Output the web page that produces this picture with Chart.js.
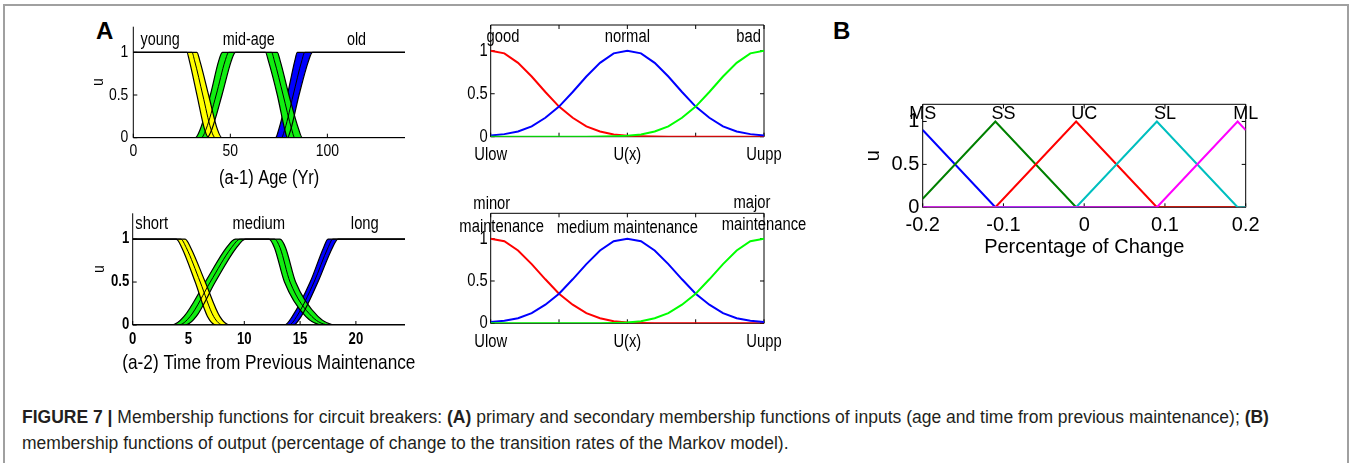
<!DOCTYPE html>
<html>
<head>
<meta charset="utf-8">
<script src="https://cdn.jsdelivr.net/npm/chart.js@4.4.1/dist/chart.umd.min.js"></script>
<style>
body { margin: 0; width: 1351px; height: 463px; background: #fff; position: relative; overflow: hidden; font-family: 'Liberation Sans', Arial, sans-serif; }
.frame { position: absolute; left: 3px; top: 4px; width: 1342px; height: 480px; border: 2px solid #a0a0a0; border-bottom: none; }
.box { position: absolute; }
.panel { position: absolute; font-weight: bold; font-size: 24px; line-height: 24px; color: #000; }
.caption { position: absolute; left: 22px; top: 404px; width: 1320px; font-size: 17.5px; line-height: 26px; color: #231f20; white-space: nowrap; }
</style>
</head>
<body>
<div class="frame"></div>
<div class="panel" style="left:96px;top:19px">A</div>
<div class="panel" style="left:833px;top:19px">B</div>

<div class="box" style="left:80px;top:5px"><canvas id="ageChart" width="340" height="195"></canvas></div>
<div class="box" style="left:80px;top:190px"><canvas id="timeChart" width="340" height="195"></canvas></div>
<div class="box" style="left:440px;top:2px"><canvas id="condChart" width="380" height="170"></canvas></div>
<div class="box" style="left:440px;top:185px"><canvas id="maintChart" width="380" height="175"></canvas></div>
<div class="box" style="left:840px;top:60px"><canvas id="outChart" width="440" height="210"></canvas></div>

<div class="caption"><b>FIGURE 7 |</b> Membership functions for circuit breakers: <b>(A)</b> primary and secondary membership functions of inputs (age and time from previous maintenance); <b>(B)</b><br>membership functions of output (percentage of change to the transition rates of the Markov model).</div>

<script>
console.log("chart file loaded");

// tick values / labels
var memTicks = [0, 0.5, 1];
var memTickLabels = ['0', '0.5', '1'];
var ageTicks = [0, 50, 100];
var ageTickLabels = ['0', '50', '100'];
var timeTicks = [0, 5, 10, 15, 20];
var timeTickLabels = ['0', '5', '10', '15', '20'];
var uTicks = [0, 0.25, 0.5, 0.75, 1];
var uTickLabels = ['Ulow', '', 'U(x)', '', 'Uupp'];
var pctTicks = [-0.2, -0.1, 0, 0.1, 0.2];
var pctTickLabels = ['-0.2', '-0.1', '0', '0.1', '0.2'];

// (a-1) age in years -> [x, u], upper / lower / middle line of each band
var youngUpper = [[0, 1], [32.8, 1], [34.3, 0.9], [38.8, 0.5], [43.3, 0.1], [45.7, 0], [140, 0]];
var youngLower = [[0, 1], [27.6, 1], [28.9, 0.9], [32.8, 0.5], [36.7, 0.1], [38.8, 0], [140, 0]];
var youngMid = [[0, 1], [30.2, 1], [31.6, 0.9], [35.8, 0.5], [40, 0.1], [42.2, 0], [140, 0]];
var midAgeUpper = [[0, 0], [31.9, 0], [34.5, 0.1], [39.7, 0.5], [44, 0.9], [45.9, 1], [74.2, 1], [75.7, 0.9], [80.2, 0.5], [85.2, 0.1], [87.1, 0], [140, 0]];
var midAgeLower = [[0, 0], [38, 0], [40.5, 0.1], [45.7, 0.5], [50.5, 0.9], [52.6, 1], [68.1, 1], [69.6, 0.9], [74.2, 0.5], [78, 0.1], [79.4, 0], [140, 0]];
var midAgeMid = [[0, 0], [35, 0], [37.5, 0.1], [42.7, 0.5], [47.3, 0.9], [49.2, 1], [71.2, 1], [72.7, 0.9], [77.2, 0.5], [81.6, 0.1], [83.2, 0], [140, 0]];
var oldUpper = [[0, 0], [73.3, 0], [75, 0.1], [79.4, 0.5], [83.2, 0.9], [84.5, 1], [140, 1]];
var oldLower = [[0, 0], [79.4, 0], [81.2, 0.1], [85.4, 0.5], [90.3, 0.9], [92.3, 1], [140, 1]];
var oldMid = [[0, 0], [76.3, 0], [78.1, 0.1], [82.4, 0.5], [86.8, 0.9], [88.4, 1], [140, 1]];
var ageLabels = ['young', 'mid-age', 'old'];

// (a-2) time from previous maintenance
var shortUpper = [[0, 1], [4.7, 1], [5.2, 0.9], [6.5, 0.5], [7.8, 0.1], [8.7, 0], [24.4, 0]];
var shortLower = [[0, 1], [3.9, 1], [4.4, 0.9], [5.6, 0.5], [6.7, 0.1], [7.5, 0], [24.4, 0]];
var shortMid = [[0, 1], [4.3, 1], [4.8, 0.9], [6.05, 0.5], [7.25, 0.1], [8.1, 0], [24.4, 0]];
var mediumUpper = [[0, 0], [3.5, 0], [4.6, 0.1], [6.5, 0.5], [8.4, 0.9], [9.2, 1], [13.2, 1], [13.7, 0.9], [14.6, 0.5], [16.6, 0.1], [18.3, 0], [24.4, 0]];
var mediumLower = [[0, 0], [4.7, 0], [5.7, 0.1], [7.4, 0.5], [9.3, 0.9], [10.1, 1], [12.2, 1], [12.7, 0.9], [13.6, 0.5], [15.5, 0.1], [17.1, 0], [24.4, 0]];
var mediumMid = [[0, 0], [4.1, 0], [5.15, 0.1], [6.95, 0.5], [8.85, 0.9], [9.65, 1], [12.7, 1], [13.2, 0.9], [14.1, 0.5], [16.05, 0.1], [17.7, 0], [24.4, 0]];
var longUpper = [[0, 0], [13.6, 0], [14.3, 0.1], [15.9, 0.5], [17.1, 0.9], [17.5, 1], [24.4, 1]];
var longLower = [[0, 0], [14.4, 0], [15.1, 0.1], [16.6, 0.5], [17.9, 0.9], [18.4, 1], [24.4, 1]];
var longMid = [[0, 0], [14, 0], [14.7, 0.1], [16.25, 0.5], [17.5, 0.9], [17.95, 1], [24.4, 1]];
var timeLabels = ['short', 'medium', 'long'];

// secondary membership functions, Ulow .. Uupp
var uX = [0, 0.05, 0.1, 0.15, 0.2, 0.25, 0.3, 0.35, 0.4, 0.45, 0.5, 0.55, 0.6, 0.65, 0.7, 0.75, 0.8, 0.85, 0.9, 0.95, 1];
var goodU = [1, 0.97, 0.86, 0.7, 0.52, 0.35, 0.22, 0.12, 0.06, 0.025, 0.01, 0.004, 0.001, 0, 0, 0, 0, 0, 0, 0, 0];
var normalU = [0.015, 0.03, 0.06, 0.12, 0.22, 0.35, 0.52, 0.7, 0.86, 0.97, 1, 0.97, 0.86, 0.7, 0.52, 0.35, 0.22, 0.12, 0.06, 0.03, 0.015];
var badU = [0, 0, 0, 0, 0, 0, 0, 0, 0.001, 0.004, 0.01, 0.025, 0.06, 0.12, 0.22, 0.35, 0.52, 0.7, 0.86, 0.97, 1];
var minorU = [1, 0.97, 0.86, 0.7, 0.52, 0.35, 0.22, 0.12, 0.06, 0.025, 0.01, 0.004, 0.001, 0, 0, 0, 0, 0, 0, 0, 0];
var mediumU = [0.015, 0.03, 0.06, 0.12, 0.22, 0.35, 0.52, 0.7, 0.86, 0.97, 1, 0.97, 0.86, 0.7, 0.52, 0.35, 0.22, 0.12, 0.06, 0.03, 0.015];
var majorU = [0, 0, 0, 0, 0, 0, 0, 0, 0.001, 0.004, 0.01, 0.025, 0.06, 0.12, 0.22, 0.35, 0.52, 0.7, 0.86, 0.97, 1];

// (B) output, percentage of change
var msPts = [[-0.2, 0.9], [-0.11, 0], [0.2, 0]];
var ssPts = [[-0.2, 0.1], [-0.11, 1], [-0.01, 0], [0.2, 0]];
var ucPts = [[-0.2, 0], [-0.11, 0], [-0.01, 1], [0.09, 0], [0.2, 0]];
var slPts = [[-0.2, 0], [-0.01, 0], [0.09, 1], [0.19, 0], [0.2, 0]];
var mlPts = [[-0.2, 0], [0.09, 0], [0.19, 1], [0.2, 0.9]];
var outLabels = ['MS', 'SS', 'UC', 'SL', 'ML'];

var SANS = "'Liberation Sans', Arial, sans-serif";
var SQUEEZE = 0.82; // matlab export looks like Arial Narrow

function pts(arr) {
    return arr.map(p => ({x: p[0], y: p[1]}));
}
function zipPts(xs, ys) {
    return xs.map((x, i) => ({x: x, y: ys[i]}));
}

// one fuzzy band: filled area between upper and lower, plus middle line
function band(upper, lower, mid, color) {
    return [
        {data: pts(upper), fill: '+1', backgroundColor: color, borderColor: '#000', borderWidth: 1.2, order: 3},
        {data: pts(lower), fill: false, borderColor: '#000', borderWidth: 1.2, order: 2},
        {data: pts(mid), fill: false, borderColor: '#000', borderWidth: 1, order: 1}
    ];
}

function narrowText(ctx, text, x, y, align, font, rotated) {
    ctx.save();
    ctx.translate(x, y);
    if (rotated) ctx.rotate(-Math.PI / 2);
    ctx.scale(SQUEEZE, 1);
    ctx.font = font;
    ctx.textAlign = align;
    ctx.textBaseline = 'middle';
    ctx.fillStyle = '#000';
    ctx.fillText(text, 0, 0);
    ctx.restore();
}

// axis lines / box, inward ticks, narrow axis text and the labels inside the plot
function frame(cfg) {
    return {
        id: 'frame',
        beforeDatasetsDraw(chart) {
            var ctx = chart.ctx, a = chart.chartArea, x = chart.scales.x, y = chart.scales.y;
            ctx.save();
            ctx.strokeStyle = '#000';
            ctx.lineWidth = 1;
            ctx.beginPath();
            ctx.moveTo(a.left, a.top);
            ctx.lineTo(a.left, a.bottom);
            ctx.lineTo(a.right, a.bottom);
            if (cfg.box) {
                ctx.lineTo(a.right, a.top);
                ctx.lineTo(a.left, a.top);
            }
            x.ticks.forEach(t => {
                var px = x.getPixelForValue(t.value);
                ctx.moveTo(px, a.bottom); ctx.lineTo(px, a.bottom - 4);
                if (cfg.box) { ctx.moveTo(px, a.top); ctx.lineTo(px, a.top + 4); }
            });
            y.ticks.forEach(t => {
                var py = y.getPixelForValue(t.value);
                ctx.moveTo(a.left, py); ctx.lineTo(a.left + 4, py);
                if (cfg.box) { ctx.moveTo(a.right, py); ctx.lineTo(a.right - 4, py); }
            });
            ctx.stroke();
            ctx.restore();
        },
        afterDatasetsDraw(chart) {
            var ctx = chart.ctx, a = chart.chartArea, x = chart.scales.x, y = chart.scales.y;
            if (cfg.narrow) {
                x.ticks.forEach(t => {
                    narrowText(ctx, t.label, x.getPixelForValue(t.value), a.bottom + cfg.xTickDy, 'center', cfg.tickFont);
                });
                y.ticks.forEach(t => {
                    narrowText(ctx, t.label, a.left - cfg.yTickDx, y.getPixelForValue(t.value), 'right', cfg.tickFont);
                });
                if (cfg.xTitle) narrowText(ctx, cfg.xTitle, (a.left + a.right) / 2, a.bottom + cfg.xTitleDy, 'center', cfg.titleFont);
                if (cfg.yTitle) narrowText(ctx, cfg.yTitle, a.left - cfg.yTitleDx, (a.top + a.bottom) / 2, 'center', cfg.yTitleFont, true);
            }
            cfg.labels.forEach(l => {
                if (cfg.narrow) {
                    narrowText(ctx, l.text, x.getPixelForValue(l.x), y.getPixelForValue(l.y), l.align || 'center', cfg.font);
                } else {
                    ctx.save();
                    ctx.fillStyle = '#000';
                    ctx.font = cfg.font;
                    ctx.textAlign = 'center';
                    ctx.textBaseline = 'middle';
                    ctx.fillText(l.text, x.getPixelForValue(l.x), y.getPixelForValue(l.y));
                    ctx.restore();
                }
            });
        }
    };
}

function scales(c) {
    return {
        x: {
            type: 'linear', min: c.xMin, max: c.xMax,
            grid: {display: false, drawTicks: false}, border: {display: false},
            afterBuildTicks: s => { s.ticks = c.xTicks.map(v => ({value: v})); },
            afterFit: s => { s.height = c.xH; },
            ticks: {display: !!c.xFont, color: '#000', font: c.xFont, padding: c.xPad || 0, maxRotation: 0, autoSkip: false,
                callback: (v, i) => c.xLabels[i]},
            title: c.xTitle ? {display: true, text: c.xTitle, color: '#000', font: c.titleFont,
                padding: {top: 0, bottom: c.xTitlePad}} : {display: false}
        },
        y: {
            type: 'linear', min: 0, max: c.yMax,
            grid: {display: false, drawTicks: false}, border: {display: false},
            afterBuildTicks: s => { s.ticks = memTicks.map(v => ({value: v})); },
            afterFit: s => { s.width = c.yW; },
            ticks: {display: !!c.yFont, color: '#000', font: c.yFont, padding: c.yPad || 0, autoSkip: false,
                callback: (v, i) => memTickLabels[i]},
            title: c.yTitle ? {display: true, text: c.yTitle, color: '#000', font: c.yTitleFont,
                padding: {top: c.yTitlePad, bottom: 0}} : {display: false}
        }
    };
}

function baseOptions(c, padding) {
    return {
        responsive: false,
        animation: false,
        layout: {padding: padding},
        elements: {point: {radius: 0}},
        plugins: {legend: {display: false}, tooltip: {enabled: false}},
        scales: scales(c)
    };
}

// (a-1) age
var ageDatasets = [].concat(
    band(youngUpper, youngLower, youngMid, '#ffff00'),
    band(midAgeUpper, midAgeLower, midAgeMid, '#11ee11'),
    band(oldUpper, oldLower, oldMid, '#0000ff')
);
ageDatasets.forEach(d => { d.cubicInterpolationMode = 'monotone'; });
new Chart(document.getElementById('ageChart'), {
    type: 'line',
    data: {datasets: ageDatasets},
    options: baseOptions({
        xMin: 0, xMax: 140, xTicks: ageTicks, xLabels: ageTickLabels, xH: 55,
        yMax: 1.3, yW: 53.3
    }, {left: 0, right: 15, top: 21.7, bottom: 7.3}),
    plugins: [frame({
        box: false, narrow: true, font: '17.5px ' + SANS,
        tickFont: '17px ' + SANS, xTickDy: 14, yTickDx: 5,
        xTitle: '(a-1) Age (Yr)', titleFont: '20px ' + SANS, xTitleDy: 40.6,
        yTitle: 'u', yTitleFont: '17px ' + SANS, yTitleDx: 35,
        labels: [
            {text: ageLabels[0], x: 13.8, y: 1.14},
            {text: ageLabels[1], x: 59.5, y: 1.14},
            {text: ageLabels[2], x: 115, y: 1.14}
        ]
    })]
});

// (a-2) time from previous maintenance
var timeDatasets = [].concat(
    band(shortUpper, shortLower, shortMid, '#ffff00'),
    band(mediumUpper, mediumLower, mediumMid, '#11ee11'),
    band(longUpper, longLower, longMid, '#0000ff')
);
timeDatasets.forEach(d => { d.cubicInterpolationMode = 'monotone'; });
new Chart(document.getElementById('timeChart'), {
    type: 'line',
    data: {datasets: timeDatasets},
    options: baseOptions({
        xMin: 0, xMax: 24.4, xTicks: timeTicks, xLabels: timeTickLabels, xH: 52,
        yMax: 1.3, yW: 52.7
    }, {left: 0, right: 15, top: 23.3, bottom: 8}),
    plugins: [frame({
        box: false, narrow: true, font: '18px ' + SANS,
        tickFont: 'bold 16px ' + SANS, xTickDy: 15, yTickDx: 3.4,
        xTitle: '(a-2) Time from Previous Maintenance', titleFont: '21px ' + SANS, xTitleDy: 38,
        yTitle: 'u', yTitleFont: '17px ' + SANS, yTitleDx: 33,
        labels: [
            {text: timeLabels[0], x: 1.7, y: 1.17},
            {text: timeLabels[1], x: 11.3, y: 1.18},
            {text: timeLabels[2], x: 20.8, y: 1.17}
        ]
    })]
});

// secondary MFs
function secondary(id, first, second, third, labels, padTop, tickDy, padBottom) {
    new Chart(document.getElementById(id), {
        type: 'line',
        data: {datasets: [
            {data: zipPts(uX, first), borderColor: '#ff0000', borderWidth: 2, fill: false, order: 3},
            {data: zipPts(uX, second), borderColor: '#0000ff', borderWidth: 2, fill: false, order: 2},
            {data: zipPts(uX, third), borderColor: '#00ff00', borderWidth: 2, fill: false, order: 1}
        ]},
        options: baseOptions({
            xMin: 0, xMax: 1, xTicks: uTicks, xLabels: uTickLabels, xH: 30,
            yMax: 1.3, yW: 50.7
        }, {left: 0, right: 56, top: padTop, bottom: padBottom}),
        plugins: [frame({
            box: true, narrow: true, font: '18px ' + SANS,
            tickFont: '18px ' + SANS, xTickDy: tickDy, yTickDx: 3,
            labels: labels
        })]
    });
}

secondary('condChart', goodU, normalU, badU, [
    {text: 'good', x: -0.015, y: 1.16, align: 'left'},
    {text: 'normal', x: 0.5, y: 1.16},
    {text: 'bad', x: 0.989, y: 1.16, align: 'right'}
], 23, 18.3, 5.3);

secondary('maintChart', minorU, mediumU, majorU, [
    {text: 'minor', x: 0.004, y: 1.41},
    {text: 'maintenance', x: 0.04, y: 1.14},
    {text: 'medium maintenance', x: 0.5, y: 1.12},
    {text: 'major', x: 0.956, y: 1.42},
    {text: 'maintenance', x: 1.0, y: 1.165}
], 28.3, 18.4, 6.7);

// (B) output
var outColors = ['#0000ff', '#008000', '#ff0000', '#00bfbf', '#ff00ff'];
var outSeries = [msPts, ssPts, ucPts, slPts, mlPts];
new Chart(document.getElementById('outChart'), {
    type: 'line',
    data: {datasets: outSeries.map((s, i) => ({
        data: pts(s), borderColor: outColors[i], borderWidth: 2, fill: false, order: 5 - i
    }))},
    options: baseOptions({
        xMin: -0.2, xMax: 0.2, xTicks: pctTicks, xLabels: pctTickLabels, xH: 55, xPad: 5.7, xTitlePad: 3.3,
        xFont: {family: SANS, size: 20}, xTitle: 'Percentage of Change', titleFont: {family: SANS, size: 20},
        yMax: 1.2, yW: 82.7, yPad: 3.4, yFont: {family: SANS, size: 20},
        yTitle: 'u', yTitleFont: {family: SANS, size: 20}, yTitlePad: 21
    }, {left: 0, right: 34.3, top: 44.3, bottom: 7.7}),
    plugins: [frame({box: true, narrow: false, font: '18px ' + SANS, labels: outLabels.map((t, i) => ({
        text: t, x: pctTicks[i], y: 1.09
    }))})]
});
</script>
</body>
</html>
